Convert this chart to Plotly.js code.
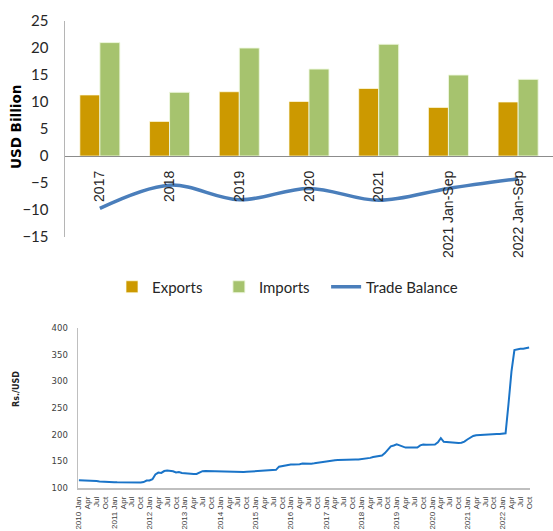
<!DOCTYPE html>
<html>
<head>
<meta charset="utf-8">
<script src="https://cdn.plot.ly/plotly-3.0.1.min.js"></script>
<style>html,body{margin:0;padding:0;background:#fff;}#chart{width:553px;height:531px;}</style>
</head>
<body>
<div id="chart"></div>
<script>
// ---- Top chart data (USD Billion) ----
const periods = ["2017", "2018", "2019", "2020", "2021", "2021 Jan-Sep", "2022 Jan-Sep"];
const exportsVals = [11.3, 6.4, 11.9, 10.1, 12.5, 9.0, 10.0];
const importsVals = [21.0, 11.8, 20.0, 16.1, 20.7, 15.0, 14.2];
const tradeBalance = [-9.7, -5.4, -8.1, -6.0, -8.2, -6.0, -4.2];

// ---- Bottom chart data (Rs./USD, monthly averages) ----
const years = [2010, 2011, 2012, 2013, 2014, 2015, 2016, 2017, 2018, 2019, 2020, 2021, 2022];
const monthNames = ["Jan","Feb","Mar","Apr","May","Jun","Jul","Aug","Sep","Oct","Nov","Dec"];
const rate2010 = [114.3,114.3,114.0,113.4,113.6,113.6,113.1,112.2,112.2,111.5,111.2,111.1];
const rate2011 = [110.9,110.6,110.5,110.1,109.7,109.5,109.6,109.8,109.9,110.2,111.1,113.9];
const rate2012 = [114.0,116.5,125.5,128.9,128.3,131.8,132.6,132.3,131.3,129.0,130.0,128.2];
const rate2013 = [127.4,126.7,126.5,126.3,126.3,128.5,131.5,131.9,131.7,130.9,131.0,130.7];
const rate2014 = [130.7,130.7,130.7,130.6,130.4,130.3,130.2,130.1,130.2,130.5,130.8,131.5];
const rate2015 = [132.4,133.0,133.3,133.5,133.7,133.8,133.8,134.0,140.0,141.2,142.0,143.8];
const rate2016 = [144.1,144.0,144.0,144.7,145.9,145.6,145.4,145.7,146.2,147.2,148.0,149.2];
const rate2017 = [150.3,151.2,151.9,152.2,152.4,152.8,153.2,153.0,153.1,153.4,153.6,153.5];
const rate2018 = [154.0,155.2,155.8,156.5,158.1,159.4,160.3,160.8,165.4,172.0,178.2,179.8];
const rate2019 = [182.0,180.0,178.0,175.8,176.0,176.1,175.9,176.0,180.0,181.4,181.0,181.2];
const rate2020 = [181.5,181.4,185.5,193.5,186.5,185.8,185.5,185.0,184.7,184.2,185.0,187.0];
const rate2021 = [191.0,194.5,197.5,199.0,199.5,200.0,200.0,200.2,200.5,201.0,201.2,201.3];
const rate2022 = [201.5,202.5,258.0,318.0,358.5,360.5,361.0,361.2,362.0,363.5];

const rateByYear = [rate2010, rate2011, rate2012, rate2013, rate2014, rate2015, rate2016,
                    rate2017, rate2018, rate2019, rate2020, rate2021, rate2022];

// build monthly series
const rates = [];
const monthIdx = [];
const monthLabel = [];
rateByYear.forEach((arr, yi) => {
  arr.forEach((v, mi) => {
    monthIdx.push(rates.length);
    monthLabel.push(mi === 0 ? years[yi] + " Jan" : monthNames[mi]);
    rates.push(v);
  });
});
const tickVals = monthIdx.filter(i => i % 3 === 0);
const tickText = tickVals.map(i => monthLabel[i]);

const W = 553, H = 531;
const px = x => x / W;
const py = y => 1 - y / H;

// top plot geometry
const topY0 = py(237), topY1 = py(21);
const yMin = -15, yMax = 25;
const zeroPos = topY0 + (0 - yMin) / (yMax - yMin) * (topY1 - topY0);

const pad = '\u00a0\u00a0\u00a0';
const traces = [
  {type: 'bar', name: 'Exports' + pad, x: periods, y: exportsVals, xaxis: 'x', yaxis: 'y',
   marker: {color: '#cc9900', line: {color: 'rgba(255,255,235,0.7)', width: 1}}},
  {type: 'bar', name: 'Imports' + pad, x: periods, y: importsVals, xaxis: 'x', yaxis: 'y',
   marker: {color: '#a6c36e', line: {color: 'rgba(240,248,225,0.9)', width: 1}}},
  {type: 'scatter', mode: 'lines', name: 'Trade Balance', x: periods, y: tradeBalance,
   xaxis: 'x', yaxis: 'y', line: {color: '#4a7ebb', width: 3.5, shape: 'spline', smoothing: 1}},
  {type: 'scatter', mode: 'lines', name: 'Rs./USD', x: monthIdx, y: rates,
   xaxis: 'x2', yaxis: 'y2', showlegend: false, line: {color: '#1a74c8', width: 2}}
];

const layout = {
  width: W, height: H,
  margin: {l: 0, r: 0, t: 0, b: 0},
  paper_bgcolor: '#fff', plot_bgcolor: 'rgba(0,0,0,0)',
  barmode: 'group', bargap: 0.426, bargroupgap: 0,
  showlegend: true,
  legend: {orientation: 'h', x: px(112), xanchor: 'left', y: py(287), yanchor: 'middle',
           font: {family: 'Lato, sans-serif', size: 15, color: '#262626'},
           traceorder: 'normal'},
  xaxis: {domain: [px(65), 1], anchor: 'free', position: zeroPos, type: 'category',
          range: [-0.5, 6.5], showline: true, linecolor: '#8c8c8c', linewidth: 1.2,
          showgrid: false, zeroline: false, ticks: '', tickangle: -90,
          ticklabelstandoff: 8,
          tickfont: {family: 'Liberation Sans, Arial, sans-serif', size: 14, color: '#262626'}},
  yaxis: {domain: [topY0, topY1], anchor: 'x', range: [yMin, yMax], dtick: 5,
          showline: true, linecolor: '#b5b5b5', linewidth: 1.5, showgrid: false, zeroline: false,
          ticks: '', ticklabelstandoff: 12,
          tickfont: {family: 'Lato, sans-serif', size: 15, color: '#262626'}},
  xaxis2: {domain: [px(78), px(530)], anchor: 'y2', range: [-0.3, 153.3],
           tickmode: 'array', tickvals: tickVals, ticktext: tickText, tickangle: -90,
           showline: true, linecolor: '#bfbfbf', linewidth: 1.5, showgrid: false, zeroline: false,
           ticks: '', ticklabelstandoff: 4,
           tickfont: {family: 'Liberation Sans, Arial, sans-serif', size: 8, color: '#404040'}},
  yaxis2: {domain: [py(488), py(328)], anchor: 'x2', range: [100, 400], dtick: 50,
           showline: true, linecolor: '#bfbfbf', linewidth: 1.5, showgrid: false, zeroline: false,
           ticks: '', ticklabelstandoff: 7,
           tickfont: {family: 'DejaVu Sans, sans-serif', size: 8.5, color: '#404040'}},
  annotations: [
    {text: '<b>USD Billion</b>', xref: 'paper', yref: 'paper', x: px(16), y: py(127),
     textangle: -90, showarrow: false, xanchor: 'center', yanchor: 'middle',
     font: {family: 'DejaVu Sans, sans-serif', size: 13.5, color: '#000'}},
    {text: '<b>Rs./USD</b>', xref: 'paper', yref: 'paper', x: px(16), y: py(389),
     textangle: -90, showarrow: false, xanchor: 'center', yanchor: 'middle',
     font: {family: 'DejaVu Sans, sans-serif', size: 8, color: '#222'}}
  ]
};

Plotly.newPlot('chart', traces, layout, {displayModeBar: false, staticPlot: true});
</script>
</body>
</html>
